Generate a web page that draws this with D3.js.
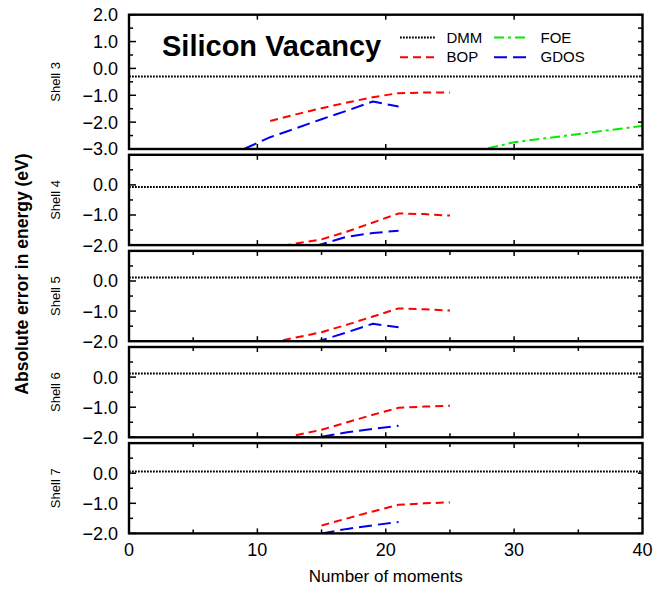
<!DOCTYPE html>
<html>
<head>
<meta charset="utf-8">
<script src="https://cdn.jsdelivr.net/npm/d3@7"></script>
<style>
  html, body { margin: 0; padding: 0; background: #fff; }
  svg { display: block; font-family: "Liberation Sans", Arial, Helvetica, sans-serif; }
</style>
</head>
<body>
<svg id="chart" width="653" height="589"></svg>
<script>
// Absolute energy error of the silicon vacancy vs. number of moments, per shell
const shells = ["Shell 3", "Shell 4", "Shell 5", "Shell 6", "Shell 7"];
const yDomains = [[-3, 2], [-2, 1], [-2, 1], [-2, 1], [-2, 1]];
const yTickLabels = [
  [2, 1, 0, -1, -2, -3],
  [0, -1, -2],
  [0, -1, -2],
  [0, -1, -2],
  [0, -1, -2]
];
const xTicks = [0, 10, 20, 30, 40];

// DMM error is independent of the number of moments (one value per shell)
const dmmError = [-0.30, -0.07, 0.12, 0.12, 0.06];

// BOP: [moments, error]
const bopShell3 = [[11, -1.96], [13, -1.71], [15, -1.48], [17, -1.27], [19, -1.07], [21, -0.92], [23, -0.90], [25, -0.90]];
const bopShell4 = [[11, -2.10], [13, -1.95], [15, -1.81], [17, -1.55], [19, -1.25], [21, -0.95], [23, -0.97], [25, -1.02]];
const bopShell5 = [[11, -2.05], [13, -1.88], [15, -1.70], [17, -1.45], [19, -1.18], [21, -0.91], [23, -0.94], [25, -0.98]];
const bopShell6 = [[13, -1.93], [15, -1.75], [17, -1.50], [19, -1.25], [21, -1.02], [23, -0.98], [25, -0.95]];
const bopShell7 = [[15, -1.74], [17, -1.50], [19, -1.27], [21, -1.05], [23, -1.00], [25, -0.97]];

// GDOS: [moments, error]
const gdosShell3 = [[9, -2.99], [11, -2.56], [13, -2.23], [15, -1.89], [17, -1.57], [19, -1.23], [21, -1.42]];
const gdosShell4 = [[13, -2.20], [15, -1.97], [17, -1.72], [19, -1.60], [21, -1.52]];
const gdosShell5 = [[13, -2.20], [15, -1.97], [17, -1.70], [19, -1.42], [21, -1.54]];
const gdosShell6 = [[15, -1.98], [17, -1.83], [19, -1.72], [21, -1.62]];
const gdosShell7 = [[15, -2.00], [17, -1.85], [19, -1.73], [21, -1.62]];

// FOE only appears in the shell 3 panel
const foeShell3 = [[20, -3.84], [30, -2.75], [40, -2.14]];

const bopSeries = [bopShell3, bopShell4, bopShell5, bopShell6, bopShell7];
const gdosSeries = [gdosShell3, gdosShell4, gdosShell5, gdosShell6, gdosShell7];
const foeSeries = [foeShell3, [], [], [], []];

const legendItems = [
  { name: "DMM", key: "dmm" },
  { name: "BOP", key: "bop" },
  { name: "FOE", key: "foe" },
  { name: "GDOS", key: "gdos" }
];

const styles = {
  dmm:  { color: "#000000", dash: "1.8,1.2", width: 2 },
  bop:  { color: "#ff0000", dash: "8,5", width: 2 },
  foe:  { color: "#00ee00", dash: "10,4,3,4", width: 2 },
  gdos: { color: "#0000ee", dash: "13,6", width: 2 }
};

const svg = d3.select("#chart");
const left = 129, right = 642.5;
const x = d3.scaleLinear().domain([0, 40]).range([left, right]);

// panel vertical extents
const panelTop = 14.7, firstHeight = 134.3, panelHeight = 90.3, gap = 5.8;
const panels = shells.map((s, i) => {
  const top = i === 0 ? panelTop : panelTop + firstHeight + gap + (i - 1) * (panelHeight + gap);
  const h = i === 0 ? firstHeight : panelHeight;
  return { name: s, top, bottom: top + h, index: i };
});

const line = (y) => d3.line().x(d => x(d[0])).y(d => y(d[1]));

panels.forEach(p => {
  const i = p.index;
  const y = d3.scaleLinear().domain(yDomains[i]).range([p.bottom, p.top]);
  const g = svg.append("g");

  const clipId = "clip" + i;
  svg.append("clipPath").attr("id", clipId)
    .append("rect").attr("x", left).attr("y", p.top).attr("width", right - left).attr("height", p.bottom - p.top);

  const plot = g.append("g").attr("clip-path", `url(#${clipId})`);

  // DMM reference level
  plot.append("path")
    .datum([[0, dmmError[i]], [40, dmmError[i]]])
    .attr("d", line(y))
    .attr("fill", "none")
    .attr("stroke", styles.dmm.color)
    .attr("stroke-width", styles.dmm.width)
    .attr("stroke-dasharray", styles.dmm.dash);

  [["foe", foeSeries[i]], ["bop", bopSeries[i]], ["gdos", gdosSeries[i]]].forEach(([k, data]) => {
    if (!data.length) return;
    plot.append("path")
      .datum(data)
      .attr("d", line(y))
      .attr("fill", "none")
      .attr("stroke", styles[k].color)
      .attr("stroke-width", styles[k].width)
      .attr("stroke-dasharray", styles[k].dash)
      .attr("stroke-linejoin", "round");
  });

  // y ticks: majors every 1, minors every 0.5, inward on both sides
  const [y0, y1] = yDomains[i];
  const yt = d3.range(y0, y1 + 0.001, 0.5);
  yt.forEach(v => {
    const major = Math.abs(v - Math.round(v)) < 1e-6;
    g.append("line").attr("x1", left).attr("x2", left + (major ? 7 : 4))
      .attr("y1", y(v)).attr("y2", y(v)).attr("stroke", "#000").attr("stroke-width", 1.5);
    g.append("line").attr("x1", right).attr("x2", right - 4.5)
      .attr("y1", y(v)).attr("y2", y(v)).attr("stroke", "#000").attr("stroke-width", 1.5);
  });

  // x ticks along top and bottom edges
  const xt = i < 2 ? [10, 20, 30] : [5, 10, 15, 20, 25, 30, 35];
  xt.forEach(v => {
    const len = v % 10 === 0 ? 5 : 4;
    g.append("line").attr("x1", x(v)).attr("x2", x(v)).attr("y1", p.top).attr("y2", p.top + len)
      .attr("stroke", "#000").attr("stroke-width", 1.5);
    g.append("line").attr("x1", x(v)).attr("x2", x(v)).attr("y1", p.bottom).attr("y2", p.bottom - len)
      .attr("stroke", "#000").attr("stroke-width", 1.5);
  });

  // frame
  g.append("rect").attr("x", left).attr("y", p.top).attr("width", right - left).attr("height", p.bottom - p.top)
    .attr("fill", "none").attr("stroke", "#000").attr("stroke-width", 2.4);

  // y tick labels
  yTickLabels[i].forEach(v => {
    g.append("text")
      .attr("x", 118).attr("y", y(v)).attr("dy", "0.36em")
      .attr("text-anchor", "end").attr("font-size", 18)
      .text(d3.format(".1f")(v).replace("-", "\u2212"));
  });

  // shell label
  g.append("text")
    .attr("transform", `translate(59.5,${(p.top + p.bottom) / 2}) rotate(-90)`)
    .attr("text-anchor", "middle").attr("font-size", 13)
    .text(p.name);
});

// bottom x-axis labels
const lastBottom = panels[panels.length - 1].bottom;
xTicks.forEach(v => {
  svg.append("text").attr("x", x(v)).attr("y", lastBottom + 23)
    .attr("text-anchor", "middle").attr("font-size", 18).text(v);
});

svg.append("text").attr("x", (left + right) / 2).attr("y", 582)
  .attr("text-anchor", "middle").attr("font-size", 17).text("Number of moments");

svg.append("text")
  .attr("transform", `translate(28,${(panels[0].top + lastBottom) / 2}) rotate(-90)`)
  .attr("text-anchor", "middle").attr("font-size", 17.5).attr("font-weight", "bold")
  .text("Absolute error in energy (eV)");

// title
svg.append("text").attr("x", 162).attr("y", 55.5)
  .attr("font-size", 29).attr("font-weight", "bold").text("Silicon Vacancy");

// legend: two columns, two rows
const legendPos = [
  { lx: 400, ly: 37.5 }, { lx: 400, ly: 57.3 },
  { lx: 494, ly: 37.5 }, { lx: 494, ly: 57.3 }
];
legendItems.forEach((item, k) => {
  const s = styles[item.key];
  const pos = legendPos[k];
  svg.append("line").attr("x1", pos.lx).attr("x2", pos.lx + 35)
    .attr("y1", pos.ly).attr("y2", pos.ly)
    .attr("stroke", s.color).attr("stroke-width", s.width).attr("stroke-dasharray", s.dash);
  svg.append("text").attr("x", pos.lx + 46.5).attr("y", pos.ly + 5)
    .attr("font-size", 15).text(item.name);
});
</script>
</body>
</html>
